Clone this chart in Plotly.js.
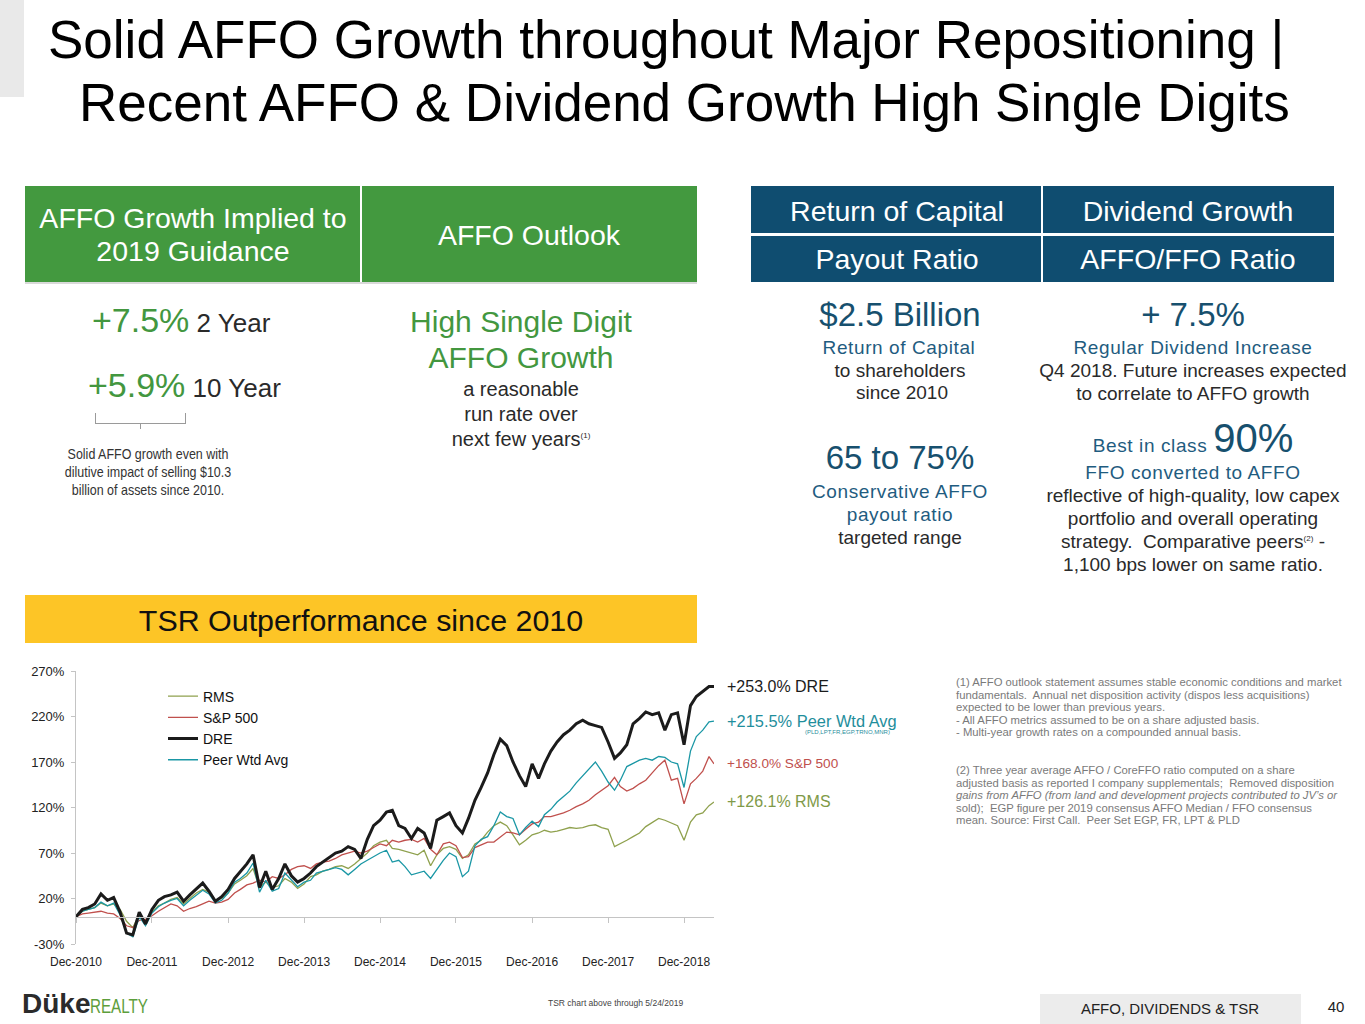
<!DOCTYPE html>
<html><head><meta charset="utf-8">
<script src="https://cdn.plot.ly/plotly-2.35.2.min.js"></script>
<style>
body{margin:0;width:1365px;height:1024px;overflow:hidden;background:#fff;font-family:"Liberation Sans",Arial,sans-serif;position:relative}
.a{position:absolute;white-space:nowrap;line-height:1.15}
.c{transform:translate(-50%,-50%)}
.l{transform:translate(0,-50%)}
.box{position:absolute}
.g{color:#43973f}
.b{color:#17506e}
.bl{color:#1f5c80;letter-spacing:0.6px}
.dk{color:#2a2a2a}
.nw{transform:translate(-50%,-50%) scaleX(0.86);font-size:14.5px;color:#333}
.fn{position:absolute;left:956px;font-size:11.3px;color:#7a7a7a;line-height:12.6px;white-space:nowrap}
#chart{position:absolute;left:0;top:655px;width:940px;height:330px}
</style></head><body>
<div class="box" style="left:0;top:0;width:24px;height:97px;background:#e9e9e9"></div>
<div class="a l" style="left:48px;top:40px;font-size:53px;color:#000">Solid AFFO Growth throughout Major Repositioning |</div>
<div class="a l" style="left:79px;top:103px;font-size:53px;color:#000">Recent AFFO &amp; Dividend Growth High Single Digits</div>

<div class="box" style="left:25px;top:186px;width:335px;height:96px;background:#43993f"></div>
<div class="box" style="left:362px;top:186px;width:335px;height:96px;background:#43993f"></div>
<div class="box" style="left:25px;top:282px;width:672px;height:2px;background:#d9d9d9"></div>
<div class="a c" style="left:193px;top:218px;font-size:28.5px;color:#fff">AFFO Growth Implied to</div>
<div class="a c" style="left:193px;top:251px;font-size:28.5px;color:#fff">2019 Guidance</div>
<div class="a c" style="left:529px;top:235px;font-size:28.5px;color:#fff">AFFO Outlook</div>

<div class="box" style="left:751px;top:186px;width:290px;height:47px;background:#0f4d70"></div>
<div class="box" style="left:1043px;top:186px;width:291px;height:47px;background:#0f4d70"></div>
<div class="box" style="left:751px;top:236px;width:290px;height:46px;background:#0f4d70"></div>
<div class="box" style="left:1043px;top:236px;width:291px;height:46px;background:#0f4d70"></div>
<div class="a c" style="left:897px;top:211px;font-size:28.5px;color:#fff">Return of Capital</div>
<div class="a c" style="left:1188px;top:211px;font-size:28.5px;color:#fff">Dividend Growth</div>
<div class="a c" style="left:897px;top:259px;font-size:28.5px;color:#fff">Payout Ratio</div>
<div class="a c" style="left:1188px;top:259px;font-size:28.5px;color:#fff">AFFO/FFO Ratio</div>

<div class="a l" style="left:92px;top:321px"><span class="g" style="font-size:34px">+7.5%</span><span class="dk" style="font-size:26px"> 2 Year</span></div>
<div class="a l" style="left:88px;top:386px"><span class="g" style="font-size:34px">+5.9%</span><span class="dk" style="font-size:26px"> 10 Year</span></div>
<div class="box" style="left:95px;top:413px;width:89px;height:10px;border:1px solid #9a9a9a;border-top:none"></div>
<div class="box" style="left:140px;top:424px;width:1px;height:5px;background:#9a9a9a"></div>
<div class="a nw" style="left:148px;top:454px">Solid AFFO growth even with</div>
<div class="a nw" style="left:148px;top:472px">dilutive impact of selling $10.3</div>
<div class="a nw" style="left:148px;top:490px">billion of assets since 2010.</div>

<div class="a c g" style="left:521px;top:322px;font-size:30px">High Single Digit</div>
<div class="a c g" style="left:521px;top:358px;font-size:30px">AFFO Growth</div>
<div class="a c dk" style="left:521px;top:389px;font-size:20px">a reasonable</div>
<div class="a c dk" style="left:521px;top:414px;font-size:20px">run rate over</div>
<div class="a c dk" style="left:521px;top:439px;font-size:20px">next few years<sup style="font-size:8px">(1)</sup></div>

<div class="a c b" style="left:900px;top:315px;font-size:33px">$2.5 Billion</div>
<div class="a c bl" style="left:899px;top:348px;font-size:19px">Return of Capital</div>
<div class="a c dk" style="left:900px;top:371px;font-size:19px">to shareholders</div>
<div class="a c dk" style="left:902px;top:393px;font-size:19px">since 2010</div>
<div class="a c b" style="left:900px;top:458px;font-size:33px">65 to 75%</div>
<div class="a c bl" style="left:900px;top:492px;font-size:19px">Conservative AFFO</div>
<div class="a c bl" style="left:900px;top:515px;font-size:19px">payout ratio</div>
<div class="a c dk" style="left:900px;top:538px;font-size:19px">targeted range</div>

<div class="a c b" style="left:1193px;top:315px;font-size:33px">+ 7.5%</div>
<div class="a c bl" style="left:1193px;top:348px;font-size:19px">Regular Dividend Increase</div>
<div class="a c dk" style="left:1193px;top:371px;font-size:19px">Q4 2018. Future increases expected</div>
<div class="a c dk" style="left:1193px;top:394px;font-size:19px">to correlate to AFFO growth</div>
<div class="a c" style="left:1193px;top:438px"><span class="bl" style="font-size:19px">Best in class </span><span class="b" style="font-size:40px">90%</span></div>
<div class="a c bl" style="left:1193px;top:473px;font-size:19px">FFO converted to AFFO</div>
<div class="a c dk" style="left:1193px;top:496px;font-size:19px">reflective of high-quality, low capex</div>
<div class="a c dk" style="left:1193px;top:519px;font-size:19px">portfolio and overall operating</div>
<div class="a c dk" style="left:1193px;top:542px;font-size:19px">strategy.&nbsp; Comparative peers<sup style="font-size:8px">(2)</sup> -</div>
<div class="a c dk" style="left:1193px;top:565px;font-size:19px">1,100 bps lower on same ratio.</div>

<div class="box" style="left:25px;top:595px;width:672px;height:48px;background:#fdc526"></div>
<div class="a c" style="left:361px;top:620px;font-size:30.4px;color:#111">TSR Outperformance since 2010</div>

<div class="fn" style="top:676px">(1) AFFO outlook statement assumes stable economic conditions and market<br>fundamentals.&nbsp; Annual net disposition activity (dispos less acquisitions)<br>expected to be lower than previous years.<br>- All AFFO metrics assumed to be on a share adjusted basis.<br>- Multi-year growth rates on a compounded annual basis.</div>
<div class="fn" style="top:764px">(2) Three year average AFFO / CoreFFO ratio computed on a share<br>adjusted basis as reported I company supplementals;&nbsp; Removed disposition<br><i>gains from AFFO (from land and development projects contributed to JV’s or</i><br>sold);&nbsp; EGP figure per 2019 consensus AFFO Median / FFO consensus<br>mean. Source: First Call.&nbsp; Peer Set EGP, FR, LPT &amp; PLD</div>

<div id="chart"></div>

<div class="a l" style="left:22px;top:1004px;font-family:'Liberation Sans Narrow','Arial Narrow',sans-serif"><span style="font-size:28px;font-weight:bold;color:#2b2b2b">Düke</span><span style="display:inline-block;font-size:20px;color:#5d9e3c;transform:scaleX(0.76);transform-origin:left center">REALTY</span></div>
<div class="a l" style="left:548px;top:1004px;font-size:8.5px;color:#444">TSR chart above through 5/24/2019</div>
<div class="box" style="left:1040px;top:994px;width:261px;height:30px;background:#ececec"></div>
<div class="a c" style="left:1170px;top:1009px;font-size:15px;color:#222">AFFO, DIVIDENDS &amp; TSR</div>
<div class="a c" style="left:1336px;top:1007px;font-size:15px;color:#222">40</div>

<script>
const dates = [
 "2010-12-31",
 "2011-01-31","2011-02-28","2011-03-31","2011-04-30","2011-05-31","2011-06-30","2011-07-31","2011-08-31","2011-09-30","2011-10-31","2011-11-30","2011-12-31",
 "2012-01-31","2012-02-29","2012-03-31","2012-04-30","2012-05-31","2012-06-30","2012-07-31","2012-08-31","2012-09-30","2012-10-31","2012-11-30","2012-12-31",
 "2013-01-31","2013-02-28","2013-03-31","2013-04-30","2013-05-31","2013-06-30","2013-07-31","2013-08-31","2013-09-30","2013-10-31","2013-11-30","2013-12-31",
 "2014-01-31","2014-02-28","2014-03-31","2014-04-30","2014-05-31","2014-06-30","2014-07-31","2014-08-31","2014-09-30","2014-10-31","2014-11-30","2014-12-31",
 "2015-01-31","2015-02-28","2015-03-31","2015-04-30","2015-05-31","2015-06-30","2015-07-31","2015-08-31","2015-09-30","2015-10-31","2015-11-30","2015-12-31",
 "2016-01-31","2016-02-29","2016-03-31","2016-04-30","2016-05-31","2016-06-30","2016-07-31","2016-08-31","2016-09-30","2016-10-31","2016-11-30","2016-12-31",
 "2017-01-31","2017-02-28","2017-03-31","2017-04-30","2017-05-31","2017-06-30","2017-07-31","2017-08-31","2017-09-30","2017-10-31","2017-11-30","2017-12-31",
 "2018-01-31","2018-02-28","2018-03-31","2018-04-30","2018-05-31","2018-06-30","2018-07-31","2018-08-31","2018-09-30","2018-10-31","2018-11-30","2018-12-31",
 "2019-01-31","2019-02-28","2019-03-31","2019-04-30","2019-05-24"
];
const dre = [0,
 8,10,14,25,18,21,5,-18,-20,5,-8,8,
 18,22,24,27,17,24,30,37,28,17,22,30,
 42,50,58,68,32,50,30,42,58,45,38,42,
 48,55,60,64,70,72,77,74,64,85,100,106,
 115,117,100,97,86,97,92,75,106,110,114,100,
 92,108,128,142,158,178,195,188,170,155,143,168,
 152,168,182,192,200,205,212,216,212,210,208,192,
 174,180,189,212,218,225,222,224,205,222,224,189,
 232,242,248,253,253];
const peer = [0,
 6,8,10,16,12,15,2,-18,-22,0,-10,4,
 11,15,18,20,12,18,24,29,25,15,18,26,
 38,42,48,59,27,40,28,31,48,40,33,38,
 40,48,50,52,54,52,46,52,58,62,66,70,
 73,60,62,55,46,48,50,42,52,62,70,66,
 44,50,78,85,88,100,115,110,108,90,98,105,
 99,112,118,126,132,138,147,155,162,170,160,148,
 139,150,165,168,172,174,172,176,175,170,168,142,
 182,198,205,214,215];
const rms = [0,
 6,8,10,15,12,14,8,-5,-12,2,-6,5,
 12,15,19,21,14,20,26,30,27,18,20,26,
 36,40,45,53,32,38,32,34,42,38,31,36,
 44,46,50,52,55,56,53,58,64,70,78,82,
 84,75,74,72,70,68,73,56,68,75,77,74,
 64,68,80,84,93,100,104,100,90,79,84,90,
 92,95,93,94,96,98,97,98,100,101,98,96,
 77,80,84,88,92,99,104,108,106,103,100,84,
 104,112,114,122,126];
const sp500 = [0,
 3,4,5,6,4,3,-2,-10,-12,-4,-3,1,
 6,10,14,12,6,9,11,14,17,15,16,19,
 26,30,35,37,40,38,44,42,46,52,55,56,
 53,58,60,61,64,68,70,72,70,72,76,80,
 78,84,82,84,85,82,86,74,68,80,82,78,
 65,66,76,79,82,82,88,93,92,90,96,102,
 104,110,110,112,114,117,121,124,128,134,139,144,
 153,143,138,141,146,150,158,166,172,150,152,124,
 146,152,160,176,168];

const seriesNames = ["RMS","S&P 500","DRE","Peer Wtd Avg"];
const finalReturns = {dre:253.0, peer:215.5, sp500:168.0, rms:126.1};
const endLabels = ["+253.0% DRE","+215.5% Peer Wtd Avg","+168.0% S&P 500","+126.1% RMS"];
const peerSet = "(PLD,LPT,FR,EGP,TRNO,MNR)";
const yTickVals = [-30,20,70,120,170,220,270];
const yTickText = ["-30%","20%","70%","120%","170%","220%","270%"];

const C = {rms:"#8fa14e", sp:"#c0504d", dre:"#1b1b1b", peer:"#1a97a5"};
const xr = ["2010-12-31","2019-05-24"];

const traces = [
 {x:dates,y:rms,name:seriesNames[0],type:"scatter",mode:"lines",line:{color:C.rms,width:1.3},legendrank:1},
 {x:dates,y:sp500,name:seriesNames[1],type:"scatter",mode:"lines",line:{color:C.sp,width:1.3},legendrank:2},
 {x:dates,y:peer,name:seriesNames[3],type:"scatter",mode:"lines",line:{color:C.peer,width:1.3},legendrank:4},
 {x:dates,y:dre,name:seriesNames[2],type:"scatter",mode:"lines",line:{color:C.dre,width:3},legendrank:3,xaxis:"x2"}
];
const px = v => (v-76)/638;
const layout = {
 width:940,height:330,
 margin:{l:76,r:226,t:16,b:41},
 paper_bgcolor:"rgba(0,0,0,0)",plot_bgcolor:"rgba(0,0,0,0)",
 font:{family:"Liberation Sans, Arial, sans-serif",size:13,color:"#222"},
 showlegend:true,
 legend:{x:px(163),y:0.965,xanchor:"left",yanchor:"top",bgcolor:"rgba(0,0,0,0)",font:{size:14,color:"#111"},tracegroupgap:0},
 xaxis:{type:"date",range:xr,tick0:"2010-12-31",dtick:"M12",tickformat:"%b-%Y",tickfont:{size:12},showline:false,ticks:"",showgrid:false,zeroline:false,ticklabelstandoff:9,fixedrange:true},
 xaxis2:{type:"date",range:xr,tick0:"2010-12-31",dtick:"M12",overlaying:"x",anchor:"free",position:0.1,side:"bottom",showline:true,linecolor:"#c4c4c4",linewidth:1,ticks:"outside",ticklen:5,tickcolor:"#c4c4c4",showticklabels:false,showgrid:false,zeroline:false},
 yaxis:{range:[-30,270],tickmode:"array",tickvals:yTickVals,ticktext:yTickText,showline:true,linecolor:"#c4c4c4",ticks:"outside",ticklen:4,tickcolor:"#c4c4c4",showgrid:false,zeroline:false,ticklabelstandoff:4},
 annotations:[
  {xref:"paper",yref:"y",x:px(725),y:finalReturns.dre,text:endLabels[0],showarrow:false,xanchor:"left",font:{size:16,color:"#1b1b1b"}},
  {xref:"paper",yref:"y",x:px(725),y:finalReturns.peer,text:endLabels[1],showarrow:false,xanchor:"left",font:{size:16.4,color:"#1f8e9c"}},
  {xref:"paper",yref:"y",x:px(803),y:finalReturns.peer,yshift:-11,text:peerSet,showarrow:false,xanchor:"left",font:{size:6,color:"#1f8e9c"}},
  {xref:"paper",yref:"y",x:px(725),y:finalReturns.sp500,text:endLabels[2],showarrow:false,xanchor:"left",font:{size:13.6,color:"#c0504d"}},
  {xref:"paper",yref:"y",x:px(725),y:finalReturns.rms,text:endLabels[3],showarrow:false,xanchor:"left",font:{size:16,color:"#7f9a48"}}
 ]
};
Plotly.newPlot("chart",traces,layout,{displayModeBar:false,staticPlot:true});
</script>
</body></html>
